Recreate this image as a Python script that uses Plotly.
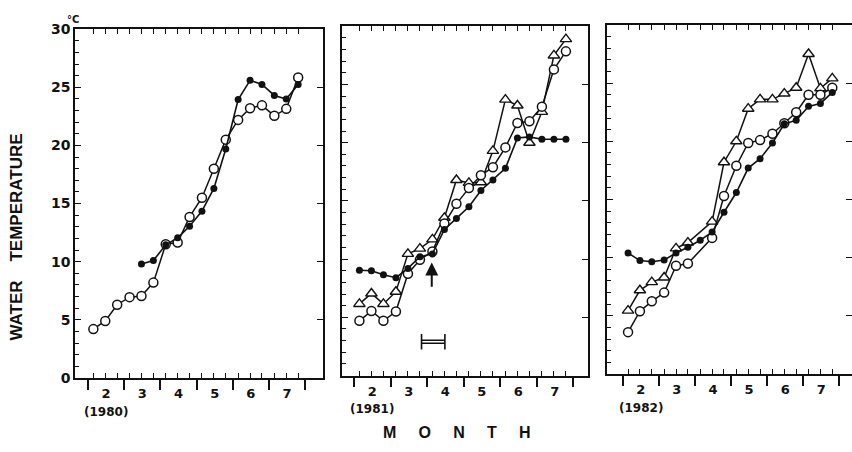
import plotly.graph_objects as go

# ---------------- data ----------------
MONTHS = [2, 3, 4, 5, 6, 7]
SAMPLE_DAYS = [5, 15, 25]
MONTH_LABELS = ["2", "3", "4", "5", "6", "7"]
YEAR_LABELS = ["(1980)", "(1981)", "(1982)"]
Y_TICKS = [0, 5, 10, 15, 20, 25, 30]
Y_TICK_TEXT = ["0", "5", "10", "15", "20", "25", "30"]
Y_RIGHT_TICKS = [5, 10, 15, 20, 25]

# 1980
p1_open = [4.2, 4.9, 6.3, 6.95, 7.05, 8.2, 11.5, 11.65, 13.85, 15.5, 18.0, 20.5,
           22.2, 23.2, 23.45, 22.55, 23.15, 25.85]
p1_filled = [None, None, None, None, 9.8, 10.1, 11.45, 12.05, 13.05, 14.35, 16.3, 19.7,
             23.95, 25.6, 25.25, 24.3, 24.0, 25.25]
p1_tri = [None] * 18

# 1981
p2_open = [4.7, 5.55, 4.7, 5.5, 8.75, 9.95, 10.65, 13.05, 14.75, 16.1, 17.2, 17.9,
           19.6, 21.7, 21.85, 23.1, 26.3, 27.85]
p2_filled = [9.05, 9.0, 8.65, 8.4, 9.2, 10.2, 10.45, 12.55, 13.5, 14.5, 15.9, 16.8,
             17.8, 20.4, 20.5, 20.3, 20.3, 20.3]
p2_tri = [6.15, 7.05, 6.15, 7.2, 10.45, 10.9, 11.7, 13.55, 16.8, 16.55, 16.6, 19.3,
          23.7, 23.2, 20.0, 22.65, 27.5, 28.9]

# 1982
p3_open = [3.6, 5.4, 6.25, 7.0, 9.3, 9.5, None, 11.7, 15.3, 17.9, 19.85, 20.1,
           20.65, 21.55, 22.5, 24.0, 24.0, 24.6]
p3_filled = [10.4, 9.75, 9.65, 9.8, 10.4, 10.9, 11.5, 12.2, 13.9, 15.6, 17.7, 18.5,
             19.85, 21.5, 21.8, 23.0, 23.25, 24.2]
p3_tri = [5.45, 7.2, 7.9, 8.3, 10.8, 11.3, None, 13.1, 18.2, 20.0, 22.8, 23.6,
          23.6, 24.1, 24.6, 27.5, 24.55, 25.4]

# markers drawn in the 1981 panel
ARROW_X = 4.13
ARROW_TIP = 9.7
ARROW_TAIL = 7.5
BAR_START = 3.85
BAR_END = 4.49
BAR_LEVEL = 2.9


def month_pos(m, d):
    return m + (d - 0.5) / 30.4


sample_x = [month_pos(m, d) for m in MONTHS for d in SAMPLE_DAYS]
month_bounds = MONTHS + [MONTHS[-1] + 1]
month_centers = [m + 0.5 for m in MONTHS]

panels = [
    dict(open=p1_open, filled=p1_filled, tri=p1_tri, year=YEAR_LABELS[0],
         xdom=[75 / 852, 323 / 852], ydom=[(452 - 383.5) / 452, (452 - 22) / 452],
         xr=[1.641, 8.492], rline=True, ylabels=True, year_y=(452 - 419) / 452),
    dict(open=p2_open, filled=p2_filled, tri=p2_tri, year=YEAR_LABELS[1],
         xdom=[342 / 852, 588 / 852], ydom=[(452 - 381) / 452, (452 - 19) / 452],
         xr=[1.671, 8.411], rline=True, ylabels=False, year_y=(452 - 416) / 452),
    dict(open=p3_open, filled=p3_filled, tri=p3_tri, year=YEAR_LABELS[2],
         xdom=[607 / 852, 1.0], ydom=[(452 - 379.5) / 452, (452 - 17.5) / 452],
         xr=[1.565, 8.352], rline=False, ylabels=False, year_y=(452 - 415) / 452),
]

BLACK = "#111111"
NUM_FONT = dict(family="DejaVu Sans", size=14, color=BLACK, weight="bold")
MONTH_FONT = dict(family="DejaVu Sans", size=13, color=BLACK, weight="bold")
YEAR_FONT = dict(family="DejaVu Sans", size=12, color=BLACK, weight="bold")
TXT_FONT = dict(family="Liberation Sans", size=17, color=BLACK, weight="bold")

fig = go.Figure()
layout = dict(
    width=852, height=452,
    margin=dict(l=0, r=0, t=0, b=0),
    paper_bgcolor="white", plot_bgcolor="white",
    showlegend=False,
)
annotations = []

for i, p in enumerate(panels):
    n = i + 1
    xs = "" if n == 1 else str(n)
    xa, ya = "x" + xs, "y" + xs
    top_n = n + 3
    xt, yr = "x" + str(top_n), "y" + str(top_n)
    # traces
    if any(v is not None for v in p["tri"]):
        fig.add_trace(go.Scatter(
            x=sample_x, y=p["tri"], xaxis=xa, yaxis=ya, mode="lines+markers",
            connectgaps=True, line=dict(color=BLACK, width=1.5),
            marker=dict(symbol="triangle-up", size=10, color="white",
                        line=dict(color=BLACK, width=1.4))))
    fig.add_trace(go.Scatter(
        x=sample_x, y=p["open"], xaxis=xa, yaxis=ya, mode="lines+markers",
        connectgaps=True, line=dict(color=BLACK, width=1.5),
        marker=dict(symbol="circle", size=9, color="white",
                    line=dict(color=BLACK, width=1.5))))
    fig.add_trace(go.Scatter(
        x=sample_x, y=p["filled"], xaxis=xa, yaxis=ya, mode="lines+markers",
        connectgaps=True, line=dict(color=BLACK, width=1.6),
        marker=dict(symbol="circle", size=7, color=BLACK)))
    # empty traces so that the overlay (frame) axes get drawn
    fig.add_trace(go.Scatter(x=[None], y=[None], xaxis=xt, yaxis=ya,
                             mode="markers", hoverinfo="skip"))
    fig.add_trace(go.Scatter(x=[None], y=[None], xaxis=xa, yaxis=yr,
                             mode="markers", hoverinfo="skip"))

    # main bottom axis: month labels + month boundary ticks
    layout["xaxis" + xs] = dict(
        domain=p["xdom"], range=p["xr"], anchor=ya,
        showline=True, linecolor=BLACK, linewidth=1.6,
        showgrid=False, zeroline=False,
        tickmode="array", tickvals=month_centers, ticktext=MONTH_LABELS,
        ticks="", tickfont=MONTH_FONT, ticklabelstandoff=3,
        minor=dict(ticks="outside", tickmode="array", tickvals=month_bounds,
                   ticklen=10, tickwidth=1.5, tickcolor=BLACK, showgrid=False),
    )
    # top overlay axis: 10-day ticks (mirrored to bottom)
    layout["xaxis" + str(top_n)] = dict(
        overlaying=xa, anchor=ya, side="top", range=p["xr"],
        showline=True, linecolor=BLACK, linewidth=1.6, mirror="ticks",
        showgrid=False, zeroline=False, showticklabels=False,
        tickmode="array", tickvals=sample_x, ticks="inside",
        ticklen=5, tickwidth=1.2, tickcolor=BLACK,
    )
    # left axis
    layout["yaxis" + xs] = dict(
        domain=p["ydom"], range=[0, 30], anchor=xa,
        showline=True, linecolor=BLACK, linewidth=1.6,
        showgrid=False, zeroline=False,
        tickmode="array", tickvals=Y_TICKS, ticktext=Y_TICK_TEXT,
        showticklabels=p["ylabels"], tickfont=NUM_FONT,
        ticks="inside", ticklen=6, tickwidth=1.3, tickcolor=BLACK,
        minor=dict(ticks="inside", dtick=1, ticklen=4, tickwidth=1.1,
                   tickcolor=BLACK, showgrid=False),
    )
    # right overlay axis
    layout["yaxis" + str(top_n)] = dict(
        overlaying=ya, anchor=xa, side="right", range=[0, 30],
        showline=p["rline"], linecolor=BLACK, linewidth=1.6,
        showgrid=False, zeroline=False, showticklabels=False,
        tickmode="array", tickvals=Y_RIGHT_TICKS, ticks="inside",
        ticklen=6, tickwidth=1.3, tickcolor=BLACK,
    )
    annotations.append(dict(
        text=p["year"], x=2.5, xref=xa, y=p["year_y"], yref="paper",
        showarrow=False, font=YEAR_FONT, xanchor="center", yanchor="middle"))

# horizontal interval bar and arrow (1981 panel)
fig.add_trace(go.Scatter(
    x=[BAR_START, BAR_END], y=[BAR_LEVEL, BAR_LEVEL], xaxis="x2", yaxis="y2",
    mode="lines", line=dict(color=BLACK, width=4.5)))
fig.add_trace(go.Scatter(
    x=[BAR_START, BAR_END], y=[BAR_LEVEL, BAR_LEVEL], xaxis="x2", yaxis="y2",
    mode="lines+markers", line=dict(color="white", width=1.4),
    marker=dict(symbol="line-ns", size=11, line=dict(color=BLACK, width=1.6))))
annotations.append(dict(
    x=ARROW_X, y=ARROW_TIP, xref="x2", yref="y2",
    ax=ARROW_X, ay=ARROW_TAIL, axref="x2", ayref="y2",
    showarrow=True, arrowhead=2, arrowsize=1.3, arrowwidth=2, arrowcolor=BLACK,
    text=""))

# degree sign at top of the first y axis
annotations.append(dict(
    text="°C", x=73 / 852, y=(452 - 12) / 452, xref="paper", yref="paper",
    showarrow=False, font=dict(family="DejaVu Sans", size=10, color=BLACK, weight="bold"),
    xanchor="center", yanchor="middle"))
# y-axis title
annotations.append(dict(
    text="WATER    TEMPERATURE", x=17 / 852, y=(452 - 238) / 452,
    xref="paper", yref="paper", textangle=-90, showarrow=False,
    font=TXT_FONT, xanchor="center", yanchor="middle"))
# x-axis title
annotations.append(dict(
    text="M     O     N     T     H", x=457 / 852, y=(452 - 440) / 452,
    xref="paper", yref="paper", showarrow=False,
    font=dict(family="Liberation Sans", size=16, color=BLACK, weight="bold"),
    xanchor="center", yanchor="middle"))

layout["annotations"] = annotations
fig.update_layout(**layout)
fig.write_html("out.html")
